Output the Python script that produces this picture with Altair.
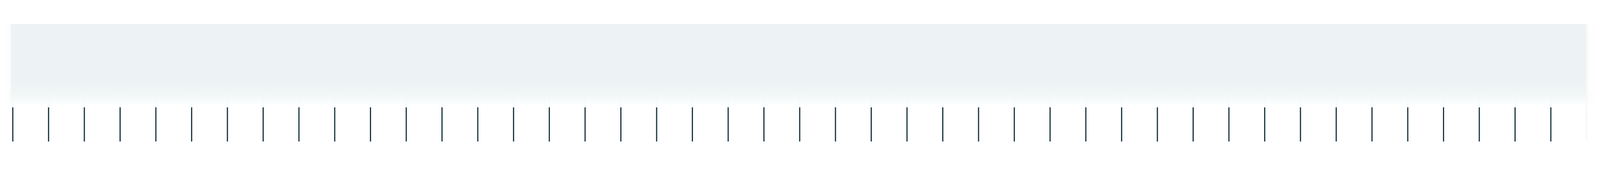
import altair as alt
import pandas as pd

idx = list(range(45))
vals = [1] * 45

df = pd.DataFrame({"i": idx, "v": vals})
W, H = 5436, 433

rules = alt.Chart(df).mark_rule(strokeWidth=4, color="#17343e", strokeCap="butt").encode(
    x=alt.X("i:Q", scale=alt.Scale(domain=[-0.2705, 44.287], nice=False, zero=False), axis=None),
    y=alt.Y("v:Q", scale=alt.Scale(domain=[-0.0867, 1.0867], nice=False, zero=False), axis=None),
    y2=alt.datum(0),
)

fog = alt.Chart(df).mark_rect(
    color=alt.Gradient(gradient="linear", x1=0, y1=0, x2=0, y2=1, stops=[
        alt.GradientStop(offset=0, color="rgba(237,242,244,1)"),
        alt.GradientStop(offset=0.44, color="rgba(237,242,244,1)"),
        alt.GradientStop(offset=0.54, color="rgba(240,245,246,0.8)"),
        alt.GradientStop(offset=0.66, color="rgba(255,255,255,0)"),
        alt.GradientStop(offset=1, color="rgba(255,255,255,0)"),
    ])
).encode(x=alt.value(0), x2=alt.value(W), y=alt.value(0), y2=alt.value(H))

left = alt.Chart(df).mark_rect(
    color=alt.Gradient(gradient="linear", x1=0, y1=0, x2=1, y2=0, stops=[
        alt.GradientStop(offset=0, color="rgba(255,255,255,0.7)"),
        alt.GradientStop(offset=1, color="rgba(255,255,255,0)"),
    ])
).encode(x=alt.value(0), x2=alt.value(30), y=alt.value(0), y2=alt.value(H))

right = alt.Chart(df).mark_rect(
    color=alt.Gradient(gradient="linear", x1=0, y1=0, x2=1, y2=0, stops=[
        alt.GradientStop(offset=0, color="rgba(255,255,255,0)"),
        alt.GradientStop(offset=1, color="rgba(255,255,255,0.7)"),
    ])
).encode(x=alt.value(W - 40), x2=alt.value(W), y=alt.value(0), y2=alt.value(H))

chart = alt.layer(rules, fog, left, right).properties(
    width=W, height=H, padding=0, autosize=alt.AutoSizeParams(type="none")
).configure_view(stroke=None)

chart.save("out.html", embed_options={"renderer": "svg", "actions": False})
